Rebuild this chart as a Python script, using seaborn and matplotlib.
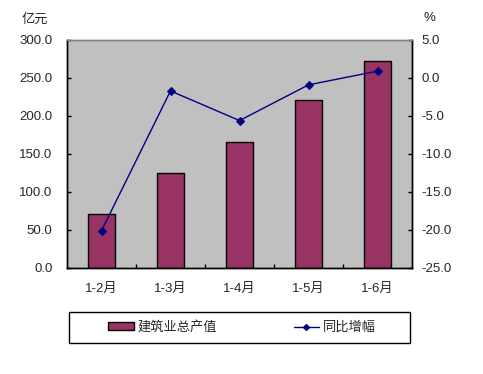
import matplotlib
matplotlib.use("Agg")
import matplotlib.pyplot as plt
import seaborn as sns
import pandas as pd
import numpy as np
from matplotlib.patches import Patch, Rectangle
from matplotlib.lines import Line2D

categories = ["1-2月", "1-3月", "1-4月", "1-5月", "1-6月"]
output_values = [70.7, 125.0, 165.8, 221.0, 272.0]
growth_values = [-20.1, -1.7, -5.6, -0.9, 0.9]
left_ticks = [0, 50, 100, 150, 200, 250, 300]
right_ticks = [-25, -20, -15, -10, -5, 0, 5]

sns.set_theme(style="white")
plt.rcParams['font.family'] = ['Liberation Sans', 'Noto Sans CJK SC', 'DejaVu Sans']
plt.rcParams['axes.unicode_minus'] = False

df = pd.DataFrame({"cat": categories, "out": output_values, "g": growth_values,
                   "pos": np.arange(len(categories))})

fig = plt.figure(figsize=(4.83, 3.74), dpi=100)
ax = fig.add_axes([67/483, 1-268/374, (412-67)/483, (268-40)/374])
ax.set_facecolor("#C0C0C0")

sns.barplot(data=df, x="cat", y="out", ax=ax, color="#993366", width=0.4,
            edgecolor="black", linewidth=1, saturation=1)
ax.set_xlim(-0.5, len(categories) - 0.5)
ax.set_ylim(0, 300)
ax.set_yticks(left_ticks)
ax.set_yticklabels([f"{v:.1f}" for v in left_ticks], fontsize=9.5)
ax.set_xlabel("")
ax.set_ylabel("")
ax.set_xticks(df["pos"])
ax.set_xticklabels(categories, fontsize=9.5)
ax.set_xticks(np.arange(1, len(categories)) - 0.5, minor=True)
ax.tick_params(axis="x", which="major", length=0, pad=11)
ax.tick_params(axis="x", which="minor", length=3, width=1, color="black", direction="in", bottom=True)
ax.tick_params(axis="y", length=3, width=1, color="black", direction="in", left=True, pad=10.5)
for s in ax.spines.values():
    s.set_color("black")
    s.set_linewidth(1)
ax.spines["top"].set_color("#808080")

ax2 = ax.twinx()
sns.lineplot(data=df, x="pos", y="g", ax=ax2, color="#000080", marker="D",
             markersize=4, linewidth=1, markeredgecolor="#000080")
ax2.set_ylim(-25, 5)
ax2.set_yticks(right_ticks)
ax2.set_yticklabels([f"{v:.1f}" for v in right_ticks], fontsize=9.5)
ax2.set_ylabel("")
ax2.set_xlabel("")
ax2.tick_params(axis="y", length=3, width=1, color="black", direction="in", right=True, pad=6.5)
ax2.set_xlim(-0.5, len(categories) - 0.5)
for s in ax2.spines.values():
    s.set_color("black")
    s.set_linewidth(1)
ax2.spines["top"].set_color("#808080")

fig.text(35/483, 1-20/374, "亿元", fontsize=9.5, ha="center", va="center")
fig.text(429/483, 1-18/374, "%", fontsize=9.5, ha="center", va="center")

# legend box
fig.patches.append(Rectangle((69/483, 1-343/374), (410-69)/483, (343-312)/374,
                             transform=fig.transFigure, fill=False, edgecolor="black",
                             linewidth=1))
handles = [Patch(facecolor="#993366", edgecolor="black", linewidth=1),
           Line2D([0], [0], color="#000080", marker="D", markersize=3, linewidth=1)]
leg = fig.legend(handles, ["建筑业总产值", "同比增幅"],
                 bbox_to_anchor=(242/483, 1-327.5/374), loc="center", ncol=2,
                 frameon=False, fontsize=9.5,
                 handlelength=1.95, handleheight=0.6, columnspacing=5.8,
                 handletextpad=0.3, borderpad=0, borderaxespad=0)

fig.savefig("out.png", dpi=100, facecolor="white")
